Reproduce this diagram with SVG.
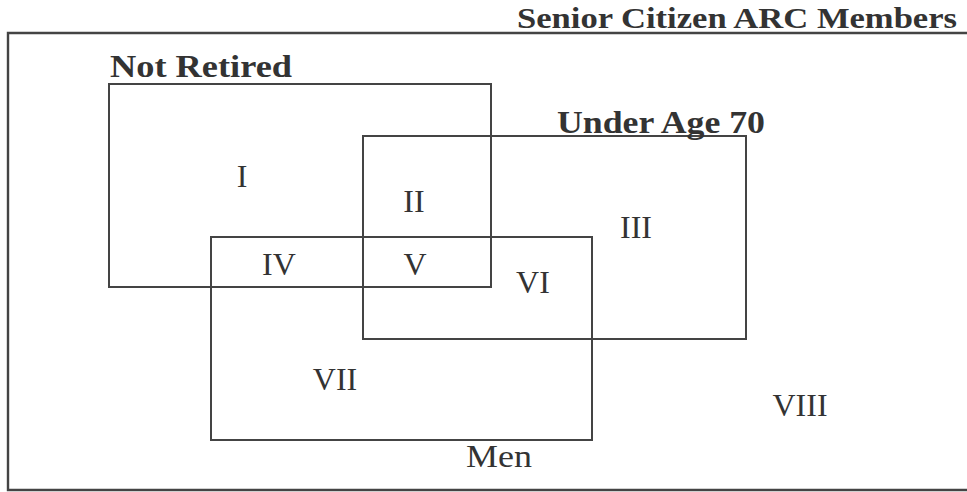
<svg xmlns="http://www.w3.org/2000/svg" width="967" height="492" viewBox="0 0 967 492">
<style>
.box{fill:none;stroke:#444;stroke-width:2}
.frame{fill:none;stroke:#444;stroke-width:2.4}
.lbl{font-family:"Liberation Serif","DejaVu Serif",serif;font-size:32px;font-weight:bold;fill:#333}
.ttl{font-family:"Liberation Serif","DejaVu Serif",serif;font-size:30px;font-weight:bold;fill:#333}
.men{font-family:"Liberation Serif","DejaVu Serif",serif;font-size:32px;fill:#333}
.num{font-family:"Liberation Serif","DejaVu Serif",serif;font-size:32px;fill:#333;text-anchor:middle}
</style>
<rect width="967" height="492" fill="#fff"/>
<g id="universe">
<path class="frame" d="M967,33 H8 V490 H967"/>
<text class="ttl" x="517" y="28" textLength="440" lengthAdjust="spacingAndGlyphs">Senior Citizen ARC Members</text>
</g>
<g id="not-retired">
<rect class="box" x="109" y="84" width="382" height="203"/>
<text class="lbl" x="110" y="77" textLength="182" lengthAdjust="spacingAndGlyphs">Not Retired</text>
</g>
<g id="under-age-70">
<rect class="box" x="363" y="136" width="383" height="203"/>
<text class="lbl" x="557" y="133" textLength="208" lengthAdjust="spacingAndGlyphs">Under Age 70</text>
</g>
<g id="men">
<rect class="box" x="211" y="237" width="381" height="203"/>
<text class="men" x="466" y="467" textLength="66" lengthAdjust="spacingAndGlyphs">Men</text>
</g>
<g id="regions">
<text class="num" x="242" y="187">I</text>
<text class="num" x="414" y="212">II</text>
<text class="num" x="636" y="238">III</text>
<text class="num" x="279" y="275">IV</text>
<text class="num" x="415" y="275">V</text>
<text class="num" x="533" y="293">VI</text>
<text class="num" x="335" y="390">VII</text>
<text class="num" x="800" y="416">VIII</text>
</g>
<g id="connectors"></g>
</svg>
